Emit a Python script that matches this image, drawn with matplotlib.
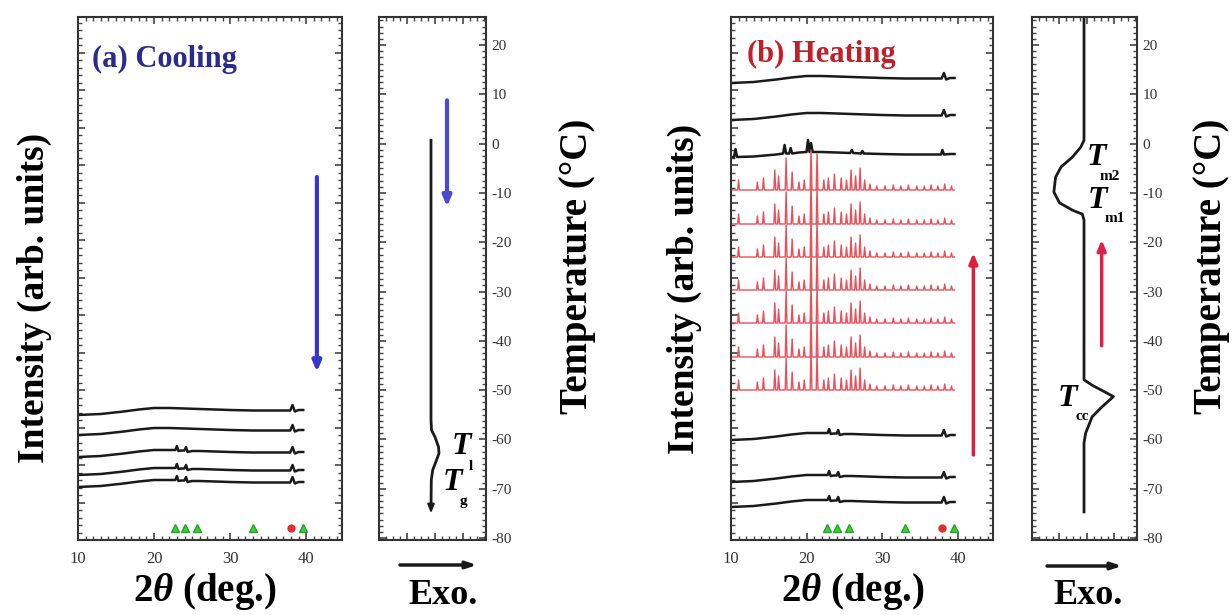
import matplotlib.pyplot as plt
import numpy as np
from matplotlib.ticker import MultipleLocator

plt.rcParams['font.family'] = ['Liberation Serif', 'DejaVu Serif']
plt.rcParams['mathtext.fontset'] = 'custom'
plt.rcParams['mathtext.rm'] = 'Liberation Serif:bold'
plt.rcParams['mathtext.it'] = 'Liberation Serif:italic:bold'
plt.rcParams['mathtext.bf'] = 'Liberation Serif:bold'
plt.rcParams['axes.unicode_minus'] = False

W, H = 1232, 615

# ---- XRD patterns (intensity in arb. units, relative to the flat tail) ----
# plain amorphous halo
amor_tt = [10, 13, 16, 18, 20, 22, 24, 26, 28, 30, 33, 36, 37.9, 38.2, 38.5, 39.0, 39.6]
amor_int = [-5, -4, -1.5, 0.5, 2, 2, 1.5, 1, 0.5, 0, -0.5, -0.5, -0.5, 5, -1.5, 0, 0]

# halo with weak reflections
weak_tt = [10, 13, 16, 18, 20, 21.5, 22.8, 23.0, 23.2, 23.6, 24.0, 24.2, 24.4, 25, 26, 28, 30,
           33, 36, 37.9, 38.2, 38.5, 39.0, 39.6]
weak_int = [-5, -4, -1.5, 0.5, 2, 2, 2, 6, 1, 1.5, 1.5, 5, 0, 1, 1, 0.5, 0,
            -0.5, -0.5, -0.5, 5, -1.5, 0, 0]

# halo with first crystalline peaks (heating, just below T_m2)
mid_tt = [10, 10.4, 10.6, 10.8, 13, 16, 16.9, 17.1, 17.3, 17.7, 17.9, 18.1, 19, 20.0, 20.2, 20.4,
          20.6, 20.8, 21.0, 22, 24, 25.8, 26.0, 26.2, 27.2, 27.4, 27.6, 30, 33, 36, 37.8, 38.0,
          38.2, 39, 39.6]
mid_int = [-3, -3, 5, -3, -2.5, -0.5, 0.5, 9, 0.5, 0.5, 6, 0.5, 1.5, 2, 14, 2,
           11, 2, 2, 2, 1.5, 1, 4, 1, 0.5, 3, 0.5, 0, -0.5, -0.5, -0.5, 4,
           -0.5, 0, 0]

# crystalline peaks (red patterns)
cryst_tt = [11.0, 13.5, 14.3, 15.8, 16.3, 17.3, 18.1, 19.0, 19.7, 20.6, 21.4, 22.3, 22.9, 23.7,
            24.6, 25.3, 25.9, 26.5, 27.1, 27.7, 28.4, 29.3, 30.4, 31.5, 32.5, 33.5, 34.6, 35.6,
            36.5, 37.4, 38.3, 39.2]
cryst_h = [10, 8, 12, 20, 14, 32, 18, 8, 10, 40, 36, 10, 12, 16,
           12, 10, 20, 14, 22, 10, 6, 4, 4, 5, 4, 5, 4, 4,
           5, 4, 6, 4]

# vertical offsets of each pattern
cool_offsets = [130, 110, 88, 70, 58]
cool_kinds = ["amor", "amor", "weak", "weak", "weak"]
heat_top_offsets = [462, 425]
heat_mid_offset = 386
heat_red_offsets = [350, 316, 283, 250, 217, 183, 150]
heat_bottom_offsets = [105, 63, 38]

# reference reflections along the bottom axis
ref_green_tt = [22.7, 24.0, 25.6, 33.0, 39.6]
ref_red_tt = [38.0]

# ---- DSC traces (x: heat flow, arb.; y: temperature in deg C) ----
dsc_cool_x = [52, 52, 52.5, 56, 59.5, 60, 57.5, 53.7, 52.3, 52]
dsc_cool_T = [0.7, -56, -58.1, -59.5, -61.5, -62.8, -64.2, -66.2, -68.2, -73.9]
dsc_heat_x = [53, 53, 49.7, 41.3, 29.7, 24, 22.3, 28, 41.3, 51.3, 53, 53, 61.3, 83, 71.3, 61.3,
              54.7, 53, 53]
dsc_heat_T = [25.7, 0.7, -0.7, -2.7, -4.7, -6.8, -9.8, -12.0, -13.5, -14.3, -15.5, -47.9, -49,
              -51.3, -53.4, -55.4, -58.7, -60.7, -74.7]


def fpos(x, y):
    return x / W, 1 - y / H


def crystal_line(tt, h, w=0.12):
    x = [10.0]
    y = [0.0]
    for p, hh in zip(tt, h):
        x += [p - w, p, p + w]
        y += [0.0, hh, 0.0]
    x.append(39.6)
    y.append(0.0)
    return np.array(x), np.array(y)


def style_xrd(ax):
    ax.set_xlim(10, 44.7)
    ax.set_ylim(0, 523)
    ax.xaxis.set_major_locator(MultipleLocator(10))
    ax.xaxis.set_minor_locator(MultipleLocator(1))
    ax.yaxis.set_major_locator(MultipleLocator(37.5))
    ax.yaxis.set_minor_locator(MultipleLocator(7.5))
    ax.tick_params(which="both", direction="in", top=True, right=True, color="#444")
    ax.tick_params(which="major", length=5, width=1.2)
    ax.tick_params(which="minor", length=3, width=1)
    ax.tick_params(axis="y", labelleft=False)
    ax.tick_params(axis="x", labelsize=12, labelcolor="#333", pad=8)
    for s in ax.spines.values():
        s.set_linewidth(1.5)
        s.set_color("#333")
    ax.plot(ref_green_tt, [12] * len(ref_green_tt), "^", color="#3ccf3c", ms=6, mec="#2aa02a")
    ax.plot(ref_red_tt, [12] * len(ref_red_tt), "o", color="#e03030", ms=5)


def style_dsc(ax):
    ax.set_xlim(0, 107)
    ax.set_ylim(-80.4, 25.7)
    ax.xaxis.set_major_locator(MultipleLocator(28))
    ax.xaxis.set_minor_locator(MultipleLocator(7))
    ax.yaxis.set_major_locator(MultipleLocator(10))
    ax.yaxis.set_minor_locator(MultipleLocator(1.25))
    ax.tick_params(which="both", direction="in", top=True, right=True, color="#444")
    ax.tick_params(which="major", length=5, width=1.2)
    ax.tick_params(which="minor", length=3, width=1)
    ax.tick_params(labelbottom=False, labelleft=False, labelright=True,
                   labelsize=11, labelcolor="#333", pad=4)
    for s in ax.spines.values():
        s.set_linewidth(1.5)
        s.set_color("#333")


fig = plt.figure(figsize=(W / 100, H / 100), dpi=100)
ax_a = fig.add_axes([78 / W, 1 - 540 / H, 264 / W, 523 / H])
dsc_a = fig.add_axes([379 / W, 1 - 540 / H, 107 / W, 523 / H])
ax_b = fig.add_axes([731 / W, 1 - 540 / H, 262 / W, 523 / H])
dsc_b = fig.add_axes([1032 / W, 1 - 540 / H, 105 / W, 523 / H])

profiles = {"amor": (amor_tt, amor_int), "weak": (weak_tt, weak_int), "mid": (mid_tt, mid_int)}
black_kw = dict(color="#1a1a1a", lw=1.8)

# (a) cooling patterns
for off, kind in zip(cool_offsets, cool_kinds):
    tt, yy = profiles[kind]
    ax_a.plot(tt, np.array(yy) + off, **black_kw)
ax_a.annotate("", xy=(41.4, 168), xytext=(41.4, 363),
              arrowprops=dict(arrowstyle="-|>,head_width=0.25,head_length=0.6",
                              color="#3636c8", lw=3, shrinkA=0, shrinkB=0))
ax_a.text(11.8, 481, "(a) Cooling", color="#2b2b8c", fontsize=22, va="center", fontweight="bold")
style_xrd(ax_a)

# (b) heating patterns
for off in heat_top_offsets:
    ax_b.plot(amor_tt, np.array(amor_int) + off, **black_kw)
ax_b.plot(mid_tt, np.array(mid_int) + heat_mid_offset, **black_kw)
cx, cy = crystal_line(cryst_tt, cryst_h)
for off in heat_red_offsets:
    ax_b.plot(cx, cy + off, color="#e8505a", lw=1.0)
for off in heat_bottom_offsets:
    ax_b.plot(weak_tt, np.array(weak_int) + off, **black_kw)
ax_b.annotate("", xy=(42.1, 287), xytext=(42.1, 85),
              arrowprops=dict(arrowstyle="-|>,head_width=0.25,head_length=0.6",
                              color="#dd1f3d", lw=2.5, shrinkA=0, shrinkB=0))
ax_b.text(12.1, 486, "(b) Heating", color="#c0202a", fontsize=22, va="center", fontweight="bold")
style_xrd(ax_b)

# DSC cooling
dsc_a.plot(dsc_cool_x, dsc_cool_T, color="#1a1a1a", lw=2)
dsc_a.annotate("", xy=(52, -75), xytext=(52, -72.5),
               arrowprops=dict(arrowstyle="-|>,head_width=0.2,head_length=0.5",
                               color="#1a1a1a", lw=1.5, shrinkA=0, shrinkB=0))
dsc_a.annotate("", xy=(68, -12.8), xytext=(68, 8.8),
               arrowprops=dict(arrowstyle="-|>,head_width=0.25,head_length=0.6",
                               color="#4a4ad0", lw=3, shrinkA=0, shrinkB=0))
style_dsc(dsc_a)

# DSC heating
dsc_b.plot(dsc_heat_x, dsc_heat_T, color="#1a1a1a", lw=2)
dsc_b.annotate("", xy=(71, -19.5), xytext=(71, -41),
               arrowprops=dict(arrowstyle="-|>,head_width=0.25,head_length=0.6",
                               color="#e0204a", lw=2.5, shrinkA=0, shrinkB=0))
style_dsc(dsc_b)

# transition labels: italic T with a small, low subscript
for (tx, ty), (sx, sy), sub in [((452, 447), (469, 466), "l"), ((443, 482), (460, 502), "g"),
                                ((1087, 157), (1100, 176), "m2"), ((1088, 200), (1105, 218), "m1"),
                                ((1058, 398), (1076, 416), "cc")]:
    fig.text(*fpos(tx, ty), "T", fontsize=23, fontstyle="italic", fontweight="bold",
             ha="left", va="center")
    fig.text(*fpos(sx, sy), sub, fontsize=11, fontweight="bold", ha="left", va="center")

# Exo. arrows
for x0, x1, y in [(400, 477, 565), (1047, 1122, 566)]:
    ax_a.annotate("", xy=fpos(x1, y), xytext=fpos(x0, y), xycoords="figure fraction",
                  textcoords="figure fraction", annotation_clip=False,
                  arrowprops=dict(arrowstyle="-|>,head_width=0.2,head_length=0.6",
                                  color="#1a1a1a", lw=2.5, shrinkA=0, shrinkB=0))

# axis titles
bold = dict(fontweight="bold", ha="center", va="center")
fig.text(*fpos(34, 298), "Intensity (arb. units)", rotation=90, fontsize=27, **bold)
fig.text(*fpos(684, 289), "Intensity (arb. units)", rotation=90, fontsize=27, **bold)
fig.text(*fpos(578, 266), "Temperature (°C)", rotation=90, fontsize=28, **bold)
fig.text(*fpos(1212, 266), "Temperature (°C)", rotation=90, fontsize=28, **bold)
fig.text(*fpos(205, 592), r"2$\theta$ (deg.)", fontsize=28, **bold)
fig.text(*fpos(853, 592), r"2$\theta$ (deg.)", fontsize=28, **bold)
fig.text(*fpos(443, 596), "Exo.", fontsize=26, **bold)
fig.text(*fpos(1088, 596), "Exo.", fontsize=26, **bold)

fig.savefig("out.png", dpi=100)
